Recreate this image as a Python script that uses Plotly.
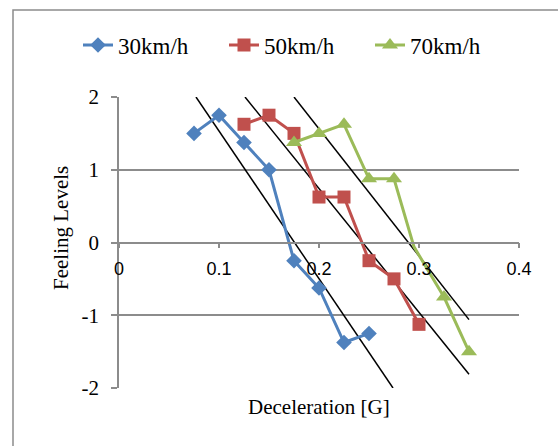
import plotly.graph_objects as go

# ---- data ----
decel = [0.075, 0.1, 0.125, 0.15, 0.175, 0.2, 0.225, 0.25]
feel_30 = [1.5, 1.75, 1.375, 1.0, -0.25, -0.625, -1.375, -1.25]

decel_50 = [0.125, 0.15, 0.175, 0.2, 0.225, 0.25, 0.275, 0.3]
feel_50 = [1.625, 1.75, 1.5, 0.625, 0.625, -0.25, -0.5, -1.125]

decel_70 = [0.175, 0.2, 0.225, 0.25, 0.275, 0.295, 0.325, 0.35]
feel_70 = [1.375, 1.5, 1.625, 0.875, 0.875, -0.06, -0.75, -1.5]

# fitted reference lines (endpoints)
fit_x = [[0.077, 0.274], [0.126, 0.35], [0.175, 0.35]]
fit_y = [[2.0, -2.0], [2.0, -1.81], [2.0, -1.06]]

x_ticks = [0, 0.1, 0.2, 0.3, 0.4]
x_ticktext = ["0", "0.1", "0.2", "0.3", "0.4"]
y_ticks = [-2, -1, 0, 1, 2]
y_ticktext = ["-2", "-1", "0", "1", "2"]

series_names = ["30km/h", "50km/h", "70km/h"]

# ---- figure ----
W, H = 558, 446
ML, MR, MT, MB = 119, 39, 97, 58
PW, PH = W - ML - MR, H - MT - MB
SERIF = "Liberation Serif, Times New Roman, serif"
SANS = "Liberation Sans, Arial, sans-serif"
BLUE, RED, GREEN = "#4F81BD", "#C0504D", "#9BBB59"

fig = go.Figure()

for fx, fy in zip(fit_x, fit_y):
    fig.add_trace(go.Scatter(x=fx, y=fy, mode="lines",
                             line=dict(color="black", width=1.5),
                             showlegend=False, hoverinfo="skip"))

fig.add_trace(go.Scatter(x=decel, y=feel_30, name=series_names[0],
                         mode="lines+markers",
                         line=dict(color=BLUE, width=3),
                         marker=dict(symbol="diamond", size=12, color=BLUE)))
fig.add_trace(go.Scatter(x=decel_50, y=feel_50, name=series_names[1],
                         mode="lines+markers",
                         line=dict(color=RED, width=3),
                         marker=dict(symbol="square", size=13, color=RED)))
green_marker_colors = [GREEN if i != 5 else "rgba(0,0,0,0)" for i in range(len(decel_70))]
fig.add_trace(go.Scatter(x=decel_70, y=feel_70, name=series_names[2],
                         mode="lines+markers",
                         line=dict(color=GREEN, width=3),
                         marker=dict(symbol="triangle-up", size=14, color=green_marker_colors)))

GRID = "#8C8C8C"
ymin, ymax = -2, 2
fig.update_layout(
    width=W, height=H,
    margin=dict(l=ML, r=MR, t=MT, b=MB),
    paper_bgcolor="white", plot_bgcolor="white",
    xaxis=dict(range=[0, 0.4], tickvals=x_ticks, ticktext=x_ticktext,
               showgrid=False, zeroline=False, showline=True, linecolor=GRID, linewidth=1.5,
               ticks="outside", ticklen=5, tickcolor=GRID, tickwidth=1.5,
               tickfont=dict(family=SANS, size=18, color="black"),
               anchor="free", position=(0 - ymin) / (ymax - ymin),
               ticklabelstandoff=5, layer="above traces"),
    yaxis=dict(range=[ymin, ymax], tickvals=y_ticks, ticktext=y_ticktext,
               showgrid=True, gridcolor=GRID, gridwidth=1.5, zeroline=False,
               showline=True, linecolor=GRID, linewidth=1.5,
               ticks="outside", ticklen=6, tickcolor=GRID, tickwidth=1.5,
               tickfont=dict(family=SERIF, size=21, color="black"),
               ticklabelstandoff=8),
    legend=dict(orientation="h", x=(78 - ML) / PW, xanchor="left", y=(H - MB - 45) / PH,
                yanchor="middle",
                font=dict(family=SERIF, size=23, color="black"),
                bgcolor="rgba(0,0,0,0)", entrywidth=101),
    showlegend=True,
    annotations=[
        dict(text="Deceleration [G]", xref="paper", yref="paper", x=0.5, y=-19 / PH,
             xanchor="center", yanchor="middle", showarrow=False,
             font=dict(family=SERIF, size=21, color="black")),
        dict(text="Feeling Levels", xref="paper", yref="paper", x=(61 - ML) / PW,
             y=(H - MB - 228) / PH, textangle=-90,
             xanchor="center", yanchor="middle", showarrow=False,
             font=dict(family=SERIF, size=21, color="black")),
    ],
    shapes=[dict(type="rect", xref="paper", yref="paper",
                 x0=(13 - ML) / PW, x1=1.5,
                 y0=-0.5, y1=(H - MB - 10) / PH,
                 line=dict(color="#8C8C8C", width=1.5), layer="below")],
)

fig.write_html("out.html")
